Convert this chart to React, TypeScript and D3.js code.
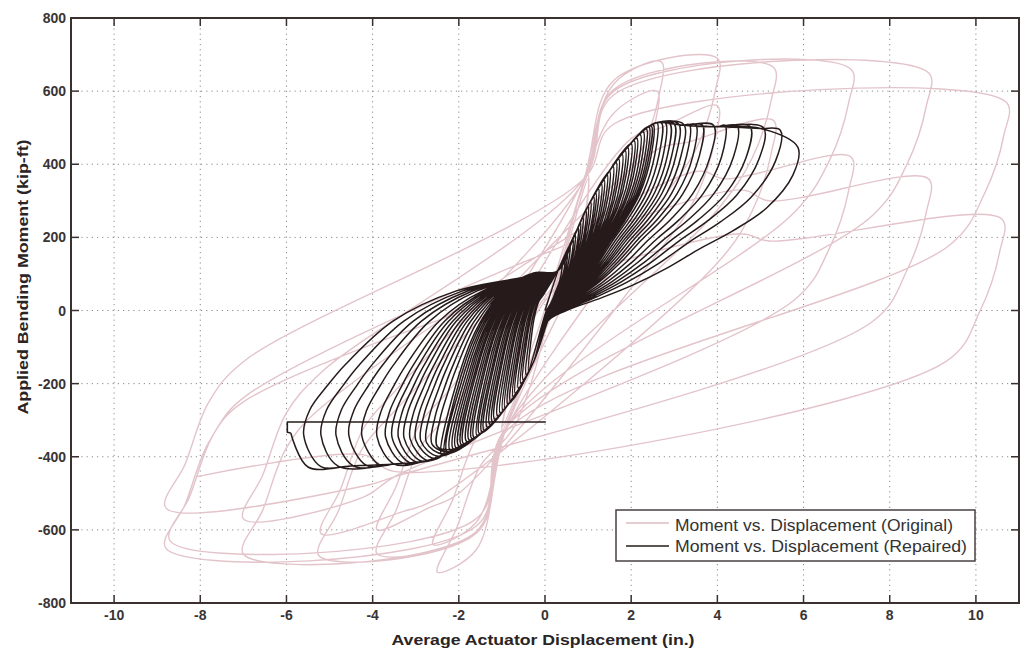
import React from 'react';
import * as d3 from 'd3';

// ---------- axes ----------
const xTicks = [-10, -8, -6, -4, -2, 0, 2, 4, 6, 8, 10];
const yTicks = [800, 600, 400, 200, 0, -200, -400, -600, -800];
const xLabel = 'Average Actuator Displacement (in.)';
const yLabel = 'Applied Bending Moment (kip-ft)';
const legendLabels = ['Moment vs. Displacement (Original)', 'Moment vs. Displacement (Repaired)'];

// ---------- repaired specimen (black) : cycle peaks ----------
const repPosX = [0.40, 0.47, 0.52, 0.58, 0.65, 0.70, 0.77, 0.82, 0.88, 0.95, 1.00, 1.06, 1.13, 1.18, 1.24, 1.31, 1.37, 1.44, 1.50, 1.58, 1.65, 1.71, 1.79, 1.86, 1.92, 2.00, 2.07, 2.13, 2.21, 2.28, 2.35, 2.41, 2.46, 2.51,
  2.60, 2.70, 2.80, 2.90, 3.00, 3.10, 3.22, 3.35, 3.50, 3.65,
  3.91, 4.18, 4.46, 4.76, 5.07, 5.46, 5.87];
const repPosM = [135, 152, 164, 179, 195, 208, 226, 240, 255, 273, 285, 297, 311, 321, 333, 346, 358, 372, 381, 394, 405, 414, 427, 438, 446, 456, 464, 471, 481, 489, 497, 502, 505, 508,
  513, 513, 512, 511, 510, 510, 509, 508, 508, 507,
  507, 506, 505, 503, 500, 493, 446];
const repNegX = [-0.38, -0.44, -0.51, -0.56, -0.62, -0.69, -0.74, -0.80, -0.86, -0.93, -0.98, -1.04, -1.10, -1.17, -1.22, -1.28, -1.34, -1.41, -1.46, -1.52, -1.58, -1.65, -1.70, -1.76, -1.82, -1.89, -1.94, -2.00, -2.06, -2.12, -2.19, -2.26, -2.33, -2.40,
  -2.50, -2.62, -2.75, -2.88, -3.0, -3.13, -3.27, -3.4, -3.55, -3.7,
  -3.9, -4.25, -4.55, -4.85, -5.2, -5.6, -5.9];
const repNegM = [-163, -175, -189, -199, -212, -226, -236, -248, -256, -266, -272, -280, -288, -297, -304, -311, -319, -328, -333, -337, -341, -347, -350, -354, -358, -364, -367, -371, -376, -380, -385, -389, -392, -396,
  -372, -366, -361, -357, -354, -351, -349, -348, -347, -346,
  -344, -343, -342, -341, -340, -340, -335];
// loading envelopes of the repaired specimen
const repUpperEnv: [number, number][] = [[0.29, 108], [0.66, 198], [0.98, 281], [1.44, 372], [1.91, 446], [2.37, 500], [2.6, 514], [3.2, 507], [4.0, 503], [5.0, 498]];
const repLowerEnv: [number, number][] = [[0.06, -29], [-0.26, -139], [-0.8, -248], [-1.42, -330], [-2.19, -385], [-2.73, -410], [-3.5, -420], [-4.5, -425], [-5.5, -428], [-6.5, -430]];
// unloading / reloading branch shape (fractions of peak displacement / peak moment)
const repUnloadFx = [0.98, 0.877, 0.744, 0.613, 0.482, 0.349, 0.22, 0.085];
const repUnloadFm = [0.83, 0.63, 0.49, 0.38, 0.26, 0.157, 0.076, 0];
const repReloadFx = [0.975, 0.9, 0.83, 0.63, 0.37, 0.11];
const repReloadFm = [0.8, 0.6, 0.44, 0.085, -0.156, -0.26];
const repEnd: [number, number][] = [[-5.9, -335], [-5.98, -333], [-5.98, -305], [0.02, -305]];

// ---------- original specimen (pink) : cycle peaks ----------
const pinkPosX = [1.0, 1.0, 2.7, 2.6, 4.0, 4.0, 5.3, 5.3, 7.1, 7.1, 8.9, 8.9, 10.7, 10.6];
const pinkPosM = [370, 360, 680, 600, 690, 560, 665, 520, 660, 420, 650, 360, 570, 250];
const pinkNegX = [-1.0, -1.0, -2.5, -2.6, -3.9, -3.9, -5.25, -5.2, -7.0, -7.0, -8.7, -8.8, -8.8, -8.1];
const pinkNegM = [-330, -320, -715, -640, -665, -600, -670, -610, -666, -570, -630, -540, -650, -455];
const pinkViaPX = [1.0, 1.0, 0.9, 0.9, 0.9, 2.0, 0.9, 2.6, 0.9, 3.5, 0.9, 4.5, 0.9, 4.5];
const pinkViaPM = [370, 360, 355, 350, 355, 470, 360, 440, 355, 380, 360, 330, 360, 210];
const pinkViaNX = [-1.0, -1.0, -0.9, -0.9, -0.9, -2.0, -0.9, -2.6, -0.9, -3.5, -0.9, -3.5, -0.9, -3.5];
const pinkViaNM = [-330, -320, -320, -320, -325, -500, -320, -520, -320, -455, -320, -455, -330, -440];
const pinkReloadDX = [0.45, 1.0, 1.8];
const pinkReloadDM = [120, 290, 400];
const pinkUnloadDX = [0.05, 0.5, 1.3];
const pinkUnloadDM = [90, 250, 390];

type P = [number, number];

function repairedPoints(): P[] {
  const lowerEnv = d3.scaleLinear().domain(repLowerEnv.map(d => d[0])).range(repLowerEnv.map(d => d[1]));
  const pts: P[] = [[0, 0]];
  let lastX = 0;
  for (let i = 0; i < repPosX.length; i++) {
    const dp = repPosX[i], mp = repPosM[i], dn = repNegX[i], mn = repNegM[i];
    repUpperEnv.forEach(([ex, em]) => { if (ex > lastX + 0.05 && ex < dp - 0.12) pts.push([ex, em]); });
    pts.push([dp, mp]);
    repUnloadFx.forEach((f, k) => pts.push([dp * f, mp * repUnloadFm[k]]));
    const sx = dp * repUnloadFx[repUnloadFx.length - 1];
    const big = dn <= -2.45;
    repLowerEnv.forEach(([ex, em]) => { if (ex < sx - 0.1 && ex > dn + (big ? 0.7 : 0.12)) pts.push([ex, em]); });
    if (big) pts.push([dn + 0.4, lowerEnv(dn + 0.4)]);
    pts.push([dn, mn]);
    if (i === repPosX.length - 1) break;
    repReloadFx.forEach((f, k) => {
      if (!big && k < 2) return;
      pts.push([dn * f, mn * repReloadFm[k]]);
    });
    lastX = dn * repReloadFx[repReloadFx.length - 1];
  }
  return pts;
}

function pinkPoints(): P[] {
  const pts: P[] = [[0, 0]];
  let prev: P = [0, 0];
  for (let i = 0; i < pinkPosX.length; i++) {
    const px = pinkPosX[i], pm = pinkPosM[i], nx = pinkNegX[i], nm = pinkNegM[i];
    const vpx = pinkViaPX[i], vpm = pinkViaPM[i], vnx = pinkViaNX[i], vnm = pinkViaNM[i];
    if (i > 0) {
      pinkReloadDX.forEach((dx, k) => {
        const q: P = [prev[0] + dx, prev[1] + pinkReloadDM[k]];
        if (q[0] < vpx - 0.4 && q[1] < vpm - 40) pts.push(q);
      });
    }
    if (vpx < px - 0.05) {
      pts.push([vpx, vpm]);
      pts.push([Math.min(vpx + 0.7, px - 0.3), pm - 60]);
    }
    pts.push([px, pm]);
    pinkUnloadDX.forEach((dx, k) => {
      const q: P = [px - dx, pm - pinkUnloadDM[k]];
      if (q[0] > vnx + 0.4 && q[1] > vnm + 40) pts.push(q);
    });
    if (vnx > nx + 0.05) {
      pts.push([vnx, vnm]);
      pts.push([Math.max(vnx - 0.7, nx + 0.3), nm + 60]);
    }
    pts.push([nx, nm]);
    prev = [nx, nm];
  }
  return pts;
}

export default function App() {
  const W = 1021, H = 652;
  const x = d3.scaleLinear().domain([-11, 11]).range([71, 1019]);
  const y = d3.scaleLinear().domain([-800, 800]).range([603, 18]);
  const curve = d3.line<P>().x(d => x(d[0])).y(d => y(d[1])).curve(d3.curveCatmullRom.alpha(0.5));
  const straight = d3.line<P>().x(d => x(d[0])).y(d => y(d[1]));
  const [x0, x1] = x.range();
  const [yb, yt] = y.range();
  const axisColor = '#3b3030';
  const font = '"Liberation Sans", Arial, sans-serif';

  return (
    <svg width={W} height={H} style={{ position: 'absolute', left: 0, top: 0, background: '#fff' }}>
      <defs>
        <clipPath id="plot"><rect x={x0} y={yt} width={x1 - x0} height={yb - yt} /></clipPath>
      </defs>
      {/* grid */}
      <g stroke="#8a8a8a" strokeWidth={1} strokeDasharray="1.2 4">
        {xTicks.map(t => <line key={'gx' + t} x1={x(t)} x2={x(t)} y1={yt} y2={yb} />)}
        {yTicks.map(t => <line key={'gy' + t} x1={x0} x2={x1} y1={y(t)} y2={y(t)} />)}
      </g>
      {/* data */}
      <g clipPath="url(#plot)" fill="none" strokeLinejoin="round">
        <path d={curve(pinkPoints()) || ''} stroke="#e3c4cb" strokeWidth={1.4} />
        <path d={curve(repairedPoints()) || ''} stroke="#261a1a" strokeWidth={1.5} />
        <path d={straight(repEnd) || ''} stroke="#261a1a" strokeWidth={1.6} />
      </g>
      {/* frame */}
      <rect x={x0} y={yt} width={x1 - x0} height={yb - yt} fill="none" stroke={axisColor} strokeWidth={2} />
      <g stroke={axisColor} strokeWidth={1.5}>
        {xTicks.map(t => <line key={'tb' + t} x1={x(t)} x2={x(t)} y1={yb} y2={yb - 8} />)}
        {xTicks.map(t => <line key={'tt' + t} x1={x(t)} x2={x(t)} y1={yt} y2={yt + 8} />)}
        {yTicks.map(t => <line key={'tl' + t} x1={x0} x2={x0 + 8} y1={y(t)} y2={y(t)} />)}
        {yTicks.map(t => <line key={'tr' + t} x1={x1} x2={x1 - 8} y1={y(t)} y2={y(t)} />)}
      </g>
      {/* tick labels */}
      <g fontFamily={font} fontSize={14} fontWeight="bold" fill="#3a3434">
        {xTicks.map(t => (
          <text key={'lx' + t} x={x(t)} y={yb + 17} textAnchor="middle">{t}</text>
        ))}
        {yTicks.map(t => (
          <text key={'ly' + t} x={x0 - 5} y={y(t) + 5} textAnchor="end">{t}</text>
        ))}
      </g>
      {/* axis titles */}
      <text x={543} y={645} textAnchor="middle" fontFamily={font} fontSize={15} fontWeight="bold" fill="#2a2424" textLength={303} lengthAdjust="spacingAndGlyphs">{xLabel}</text>
      <text transform={`translate(28,277) rotate(-90)`} textAnchor="middle" fontFamily={font} fontSize={15} fontWeight="bold" fill="#2a2424" textLength={275} lengthAdjust="spacingAndGlyphs">{yLabel}</text>
      {/* legend */}
      <g>
        <rect x={616} y={510} width={359} height={51} fill="#fff" stroke="#4a4040" strokeWidth={1.5} />
        <line x1={626} x2={669} y1={523} y2={523} stroke="#dcbcc3" strokeWidth={1.5} />
        <line x1={626} x2={669} y1={546} y2={546} stroke="#261a1a" strokeWidth={1.5} />
        <text x={675} y={531} fontFamily={font} fontSize={16.5} fill="#333" textLength={278} lengthAdjust="spacingAndGlyphs">{legendLabels[0]}</text>
        <text x={675} y={552} fontFamily={font} fontSize={16.5} fill="#333" textLength={292} lengthAdjust="spacingAndGlyphs">{legendLabels[1]}</text>
      </g>
    </svg>
  );
}
